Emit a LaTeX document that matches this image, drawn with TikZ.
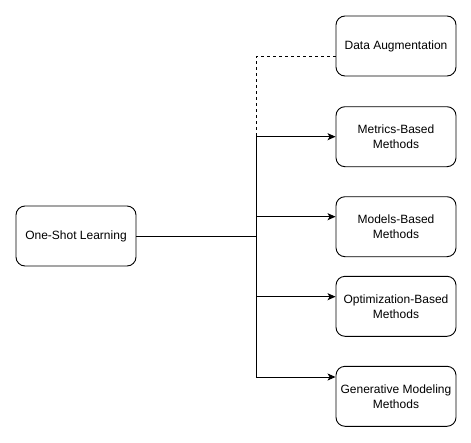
\documentclass[tikz,border=0pt]{standalone}
\usepackage{fontspec}
\setmainfont{Liberation Sans}
\usetikzlibrary{arrows.meta}
\begin{document}
\begin{tikzpicture}[x=1pt,y=-1pt,
  box/.style={draw,line width=0.9pt,rounded corners=9pt,minimum width=120pt,minimum height=60pt,align=center,inner sep=0pt,font=\fontsize{12}{15}\selectfont},
  conn/.style={line width=0.9pt},
  arr/.style={conn,-{Stealth[length=8pt,width=7pt,inset=2pt]}}]
\useasboundingbox (0,0) rectangle (471,442);
\node[box] (da) at (396,46) {Data Augmentation};
\node[box] (mb) at (396,136.7) {Metrics-Based\\Methods};
\node[box] (mo) at (396,226.7) {Models-Based\\Methods};
\node[box] (ob) at (396,306.3) {Optimization-Based\\Methods};
\node[box] (gm) at (396,396.3) {Generative Modeling\\Methods};
\node[box] (os) at (76,236) {One-Shot Learning};
\coordinate (jt) at (256,56.7);
\coordinate (jm) at (256,136.7);
\coordinate (jo) at (256,236.7);
\coordinate (jb) at (256,377);
\draw[conn,dashed,dash pattern=on 3pt off 3pt] (da.west |- jt) -- (jt) -- (jm);
\draw[conn] (jm) -- (jb);
\draw[conn] (os.east |- jo) -- (jo);
\draw[arr] (jm) -- (mb.west |- jm);
\draw[arr] (256,216.7) -- (mo.west |- 0,216.7);
\draw[arr] (256,296.7) -- (ob.west |- 0,296.7);
\draw[arr] (jb) -- (gm.west |- jb);
\end{tikzpicture}
\end{document}
